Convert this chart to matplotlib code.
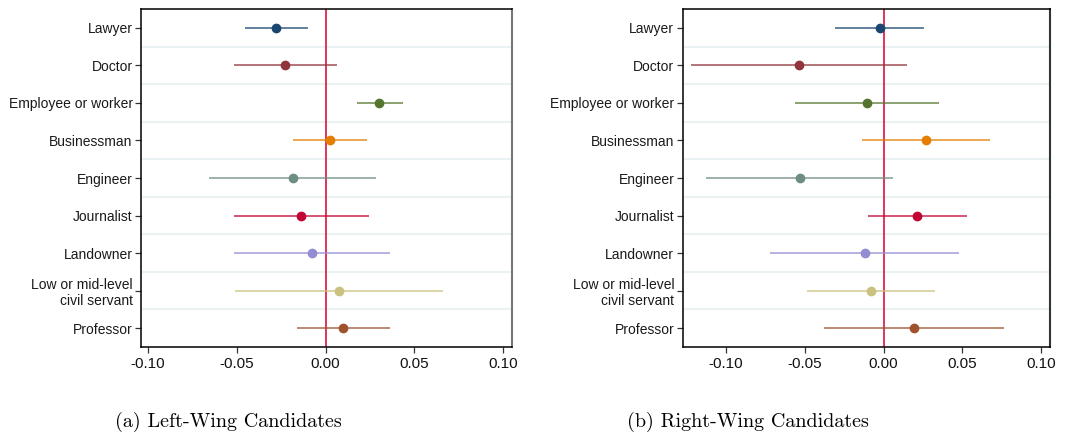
import matplotlib
matplotlib.use("Agg")
import matplotlib.pyplot as plt

categories = ["Lawyer", "Doctor", "Employee or worker", "Businessman", "Engineer",
              "Journalist", "Landowner", "Low or mid-level\ncivil servant", "Professor"]
colors = ["#1a476f", "#90353b", "#55752f", "#e37e00", "#6e8e84",
          "#c10534", "#938dd2", "#cac27e", "#a0522d"]

left_est = [-0.0278, -0.0227, 0.0302, 0.0023, -0.0186, -0.0137, -0.0075, 0.0073, 0.0100]
left_lo = [-0.0453, -0.0515, 0.0175, -0.0182, -0.0655, -0.0515, -0.0516, -0.0513, -0.0163]
left_hi = [-0.0100, 0.0066, 0.0434, 0.0231, 0.0284, 0.0244, 0.0364, 0.0661, 0.0362]

right_est = [-0.0025, -0.0539, -0.0106, 0.0266, -0.0531, 0.0214, -0.0118, -0.0080, 0.0190]
right_lo = [-0.0307, -0.1222, -0.0564, -0.0137, -0.1129, -0.0099, -0.0721, -0.0484, -0.0381]
right_hi = [0.0258, 0.0148, 0.0351, 0.0674, 0.0061, 0.0531, 0.0480, 0.0323, 0.0761]

xticks = [-0.10, -0.05, 0.00, 0.05, 0.10]
xticklabels = ["-0.10", "-0.05", "0.00", "0.05", "0.10"]
captions = ["(a) Left-Wing Candidates", "(b) Right-Wing Candidates"]

plt.rcParams["font.family"] = ["Liberation Sans", "DejaVu Sans"]

fig = plt.figure(figsize=(10.68, 4.42), dpi=100)
ax1 = fig.add_axes([0.132, 0.2149, 0.3474, 0.7647])
ax2 = fig.add_axes([0.6392, 0.2149, 0.3439, 0.7647])

panels = [
    (ax1, left_est, left_lo, left_hi, (-0.104, 0.105), "#777777"),
    (ax2, right_est, right_lo, right_hi, (-0.1275, 0.1055), "#333333"),
]

for ax, est, lo, hi, xlim, rcol in panels:
    n = len(categories)
    for i in range(n - 1):
        ax.axhline(i + 0.5, color="#eaf2f3", lw=1.5, zorder=0)
    ax.axvline(0, color="#d6002e", lw=1.1, zorder=1)
    for i in range(n):
        ax.plot([lo[i], hi[i]], [i, i], color=colors[i], lw=1.2, alpha=0.8,
                solid_capstyle="butt", zorder=2)
        ax.plot(est[i], i, "o", color=colors[i], ms=6, zorder=3)
    ax.set_ylim(n - 0.5, -0.5)
    ax.set_xlim(*xlim)
    ax.set_yticks(range(n))
    ax.set_yticklabels(categories, fontsize=10, color="#1a1a1a")
    ax.set_xticks(xticks)
    ax.set_xticklabels(xticklabels, fontsize=11, color="#111111")
    ax.tick_params(axis="both", direction="out", length=4, width=0.9, color="#333333")
    ax.tick_params(axis="y", pad=2)
    for side in ["left", "bottom", "top"]:
        ax.spines[side].set_color("black")
        ax.spines[side].set_linewidth(1.1)
    ax.spines["right"].set_color(rcol)
    ax.spines["right"].set_linewidth(1.5)

fig.text(0.2135, 0.045, captions[0], ha="center", va="center", fontsize=14.5,
         family="cmr10")
fig.text(0.700, 0.045, captions[1], ha="center", va="center", fontsize=14.5,
         family="cmr10")

fig.savefig("out.png", dpi=100)
